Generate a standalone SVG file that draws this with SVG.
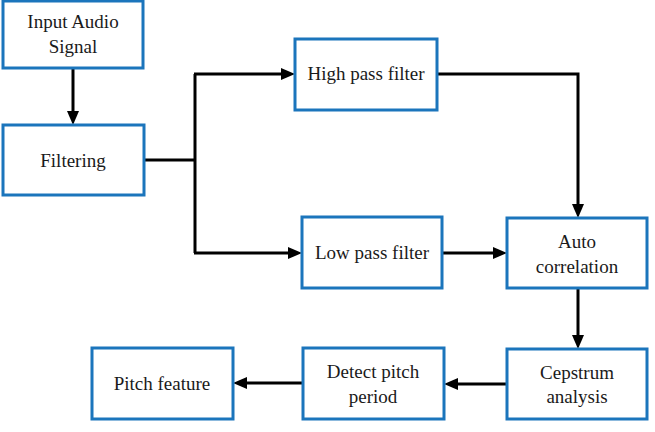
<svg xmlns="http://www.w3.org/2000/svg" width="655" height="432" viewBox="0 0 655 432">
<style>
.box{fill:#fff;stroke:#1b75bc;stroke-width:3}
.t{font-family:"Liberation Serif","Times New Roman",serif;font-size:19px;fill:#1a1a1a;text-anchor:middle}
.c{fill:none;stroke:#000;stroke-width:3}
</style>
<defs>
<marker id="ah" viewBox="0 0 14 12" refX="4" refY="6" markerWidth="14" markerHeight="12" markerUnits="userSpaceOnUse" orient="auto">
<path d="M0,0 L14,6 L0,12 z" fill="#000"/>
</marker>
</defs>
<rect width="655" height="432" fill="#fff"/>
<g id="connectors">
<path class="c" d="M73,68 V115" marker-end="url(#ah)"/>
<path class="c" d="M144,160 H195"/>
<path class="c" d="M195,74 V253"/>
<path class="c" d="M194,74 H285" marker-end="url(#ah)"/>
<path class="c" d="M194,253 H292" marker-end="url(#ah)"/>
<path class="c" d="M437,74 H578 V208" marker-end="url(#ah)"/>
<path class="c" d="M442,253 H497" marker-end="url(#ah)"/>
<path class="c" d="M578,288 V339" marker-end="url(#ah)"/>
<path class="c" d="M507,384 H454" marker-end="url(#ah)"/>
<path class="c" d="M303,383 H243" marker-end="url(#ah)"/>
</g>
<g id="input">
<rect class="box" x="3" y="1" width="140" height="67"/>
<text class="t" x="73" y="28">Input Audio</text>
<text class="t" x="73" y="53">Signal</text>
</g>
<g id="filtering">
<rect class="box" x="3" y="125" width="141" height="70"/>
<text class="t" x="73" y="167">Filtering</text>
</g>
<g id="hpf">
<rect class="box" x="295" y="39" width="142" height="71"/>
<text class="t" x="366" y="80">High pass filter</text>
</g>
<g id="lpf">
<rect class="box" x="302" y="217" width="140" height="71"/>
<text class="t" x="372" y="259">Low pass filter</text>
</g>
<g id="auto">
<rect class="box" x="507" y="218" width="140" height="70"/>
<text class="t" x="577" y="248">Auto</text>
<text class="t" x="577" y="273">correlation</text>
</g>
<g id="cepstrum">
<rect class="box" x="507" y="349" width="140" height="70"/>
<text class="t" x="577" y="379">Cepstrum</text>
<text class="t" x="577" y="403">analysis</text>
</g>
<g id="detect">
<rect class="box" x="303" y="348" width="141" height="71"/>
<text class="t" x="373" y="378">Detect pitch</text>
<text class="t" x="373" y="403">period</text>
</g>
<g id="pitch">
<rect class="box" x="92" y="348" width="141" height="71"/>
<text class="t" x="162" y="390">Pitch feature</text>
</g>
</svg>
